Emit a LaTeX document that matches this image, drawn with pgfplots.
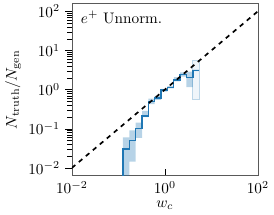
\documentclass[border=0pt]{standalone}
\usepackage{pgfplots}
\pgfplotsset{compat=1.18}
\definecolor{cA}{RGB}{31,119,180}
\begin{document}
\begin{tikzpicture}
\begin{loglogaxis}[
  scale only axis,
  width=122pt, height=113pt,
  xmin=1e-2, xmax=1e2,
  ymin=0.00631, ymax=158.5,
  xtick={1e-2,1,1e2},
  ytick={1e-2,1e-1,1,1e1,1e2},
  minor xtick={},
  axis line style={gray!70!black},
  xtick pos=bottom, ytick pos=left,
  xtick align=inside, ytick align=outside,
  x tick style={black},
  y tick style={black},
  minor y tick style={black},
  xlabel={$w_c$},
  ylabel={$N_\mathrm{truth}/N_\mathrm{gen}$},
  xlabel style={yshift=2pt},
  ylabel style={yshift=-2pt},
  tick label style={font=\normalsize},
]
% light (alternative) band / line
\addplot[draw=cA!30, fill=cA!7, line width=0.6pt] coordinates {
 (3.9947,5.62) (5.4702,5.62) (5.4702,0.562) (3.9947,0.562) (3.9947,5.62)};
% uncertainty band
\addplot[draw=none, fill=cA, fill opacity=0.32] coordinates {
 (0.1259,0.0603) (0.1724,0.0603)
 (0.1724,0.0912) (0.2360,0.0912)
 (0.2360,0.1445) (0.3232,0.1445)
 (0.3232,0.285) (0.4426,0.285)
 (0.4426,0.589) (0.6060,0.589)
 (0.6060,0.692) (0.8299,0.692)
 (0.8299,1.047) (1.1364,1.047)
 (1.1364,1.23) (1.5560,1.23)
 (1.5560,2.09) (2.1305,2.09)
 (2.1305,2.75) (2.9174,2.75)
 (2.9174,2.88) (3.9947,2.88)
 (3.9947,3.25) (5.4702,3.25)
 (5.4702,2.95) (3.9947,2.95)
 (3.9947,1.15) (2.9174,1.15)
 (2.9174,2.14) (2.1305,2.14)
 (2.1305,1.62) (1.5560,1.62)
 (1.5560,1.07) (1.1364,1.07)
 (1.1364,0.891) (0.8299,0.891)
 (0.8299,0.550) (0.6060,0.550)
 (0.6060,0.427) (0.4426,0.427)
 (0.4426,0.1995) (0.3232,0.1995)
 (0.3232,0.0589) (0.2360,0.0589)
 (0.2360,0.01445) (0.1724,0.01445)
 (0.1724,0.0001) (0.1259,0.0001)
} -- cycle;
% central histogram
\addplot[cA, line width=0.9pt] coordinates {
 (0.1259,0.0001) (0.1259,0.0302) (0.1724,0.0302)
 (0.1724,0.0501) (0.2360,0.0501)
 (0.2360,0.100) (0.3232,0.100)
 (0.3232,0.214) (0.4426,0.214)
 (0.4426,0.501) (0.6060,0.501)
 (0.6060,0.617) (0.8299,0.617)
 (0.8299,0.977) (1.1364,0.977)
 (1.1364,1.135) (1.5560,1.135)
 (1.5560,1.78) (2.1305,1.78)
 (2.1305,2.45) (2.9174,2.45)
 (2.9174,2.04) (3.9947,2.04)
 (3.9947,3.09) (5.4702,3.09)
};
% diagonal
\addplot[black, dashed, line width=1.1pt] coordinates {(1e-2,1e-2) (1e2,1e2)};
\node[anchor=west] at (rel axis cs:0.02,0.92) {$e^{+}$ Unnorm.};
\end{loglogaxis}
\end{tikzpicture}
\end{document}
